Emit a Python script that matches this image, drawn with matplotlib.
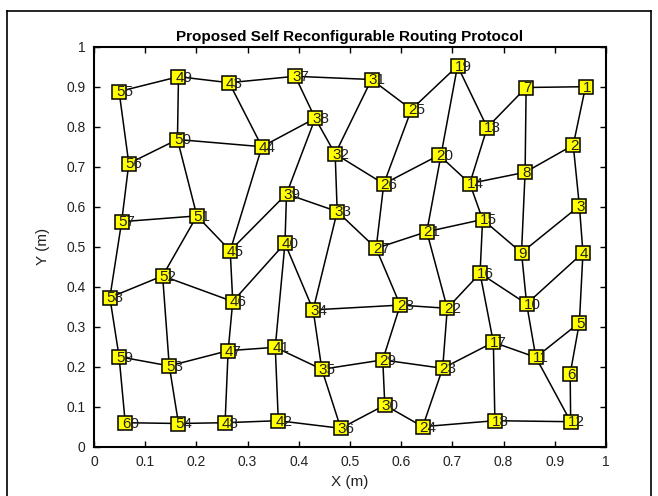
import matplotlib
matplotlib.use("Agg")
import matplotlib.pyplot as plt
from matplotlib.lines import Line2D

plt.rcParams['font.family'] = ['Liberation Sans', 'DejaVu Sans']

node_ids = list(range(1, 61))
node_x = [0.960, 0.936, 0.948, 0.955, 0.948, 0.930, 0.844, 0.842, 0.835, 0.845,
          0.863, 0.931, 0.768, 0.734, 0.759, 0.754, 0.780, 0.783, 0.710, 0.674,
          0.650, 0.690, 0.681, 0.642, 0.620, 0.566, 0.551, 0.598, 0.564, 0.568,
          0.542, 0.471, 0.475, 0.428, 0.445, 0.482, 0.393, 0.432, 0.376, 0.373,
          0.354, 0.360, 0.264, 0.328, 0.266, 0.271, 0.262, 0.256, 0.165, 0.163,
          0.201, 0.134, 0.147, 0.165, 0.049, 0.068, 0.054, 0.031, 0.049, 0.061]
node_y = [0.900, 0.754, 0.602, 0.485, 0.310, 0.182, 0.898, 0.686, 0.485, 0.357,
          0.2235, 0.0625, 0.798, 0.658, 0.568, 0.4335, 0.261, 0.065, 0.952, 0.729,
          0.5375, 0.346, 0.196, 0.050, 0.843, 0.657, 0.496, 0.354, 0.217, 0.104,
          0.918, 0.732, 0.588, 0.342, 0.1935, 0.046, 0.926, 0.821, 0.632, 0.5085,
          0.2485, 0.065, 0.910, 0.750, 0.490, 0.363, 0.240, 0.060, 0.925, 0.768,
          0.577, 0.427, 0.202, 0.058, 0.888, 0.708, 0.5625, 0.373, 0.225, 0.060]

edge_from = [55, 49, 43, 37, 31, 25, 19, 13, 7, 7, 1, 2, 8, 13, 19, 25, 32, 26, 20,
             31, 37, 38, 38, 38, 32, 43, 49, 50, 50, 55, 50, 44, 56, 57, 51, 51, 45,
             45, 46, 52, 52, 57, 52, 58, 59, 59, 53, 47, 53, 46, 47, 60, 54, 48, 42,
             41, 40, 41, 35, 35, 35, 36, 30, 30, 29, 29, 23, 23, 23, 17, 11, 5, 6,
             11, 18, 24, 16, 17, 11, 16, 16, 16, 15, 9, 10, 8, 9, 2, 3, 4, 15, 21,
             14, 21, 22, 27, 27, 33, 33, 33, 39, 40, 34]
edge_to = [49, 43, 37, 31, 25, 19, 13, 7, 1, 8, 2, 8, 14, 14, 21, 26, 26, 20, 14,
           32, 38, 32, 44, 39, 33, 44, 50, 44, 56, 56, 51, 45, 57, 51, 45, 52, 39,
           46, 40, 46, 58, 58, 53, 59, 60, 53, 47, 41, 54, 47, 48, 54, 48, 42, 36,
           42, 41, 35, 29, 36, 34, 30, 29, 24, 28, 23, 24, 22, 17, 11, 5, 6, 12,
           12, 12, 18, 17, 18, 10, 10, 22, 15, 9, 3, 4, 9, 10, 3, 4, 5, 21, 27,
           15, 22, 28, 28, 26, 27, 39, 34, 40, 34, 28]

fig = plt.figure(figsize=(6.58, 4.96), dpi=100)
ax = fig.add_axes([94/658, 1-446.7/496, 512/658, 400/496])

for a, b in zip(edge_from, edge_to):
    ax.plot([node_x[a-1], node_x[b-1]], [node_y[a-1], node_y[b-1]],
            color='black', lw=1.1, zorder=1)

ax.plot(node_x, node_y, linestyle='none', marker='s', markersize=10.5,
        markerfacecolor='#ffff00', markeredgecolor='black', markeredgewidth=1.1,
        zorder=2)

for i, x, y in zip(node_ids, node_x, node_y):
    ax.text(x - 0.006, y - 0.002, str(i), fontsize=11, ha='left', va='center',
            color='#222222', zorder=3)

ax.set_xlim(0, 1)
ax.set_ylim(0, 1)
ticks = [0, 0.1, 0.2, 0.3, 0.4, 0.5, 0.6, 0.7, 0.8, 0.9, 1]
tick_labels = ['0', '0.1', '0.2', '0.3', '0.4', '0.5', '0.6', '0.7', '0.8', '0.9', '1']
ax.set_xticks(ticks)
ax.set_xticklabels(tick_labels)
ax.set_yticks(ticks)
ax.set_yticklabels(tick_labels)
ax.tick_params(direction='in', length=4, width=1, labelsize=10, top=True, right=True,
               pad=6, labelcolor='#222222')
for s in ax.spines.values():
    s.set_linewidth(1.5)
ax.set_xlabel('X (m)', fontsize=11, labelpad=4, color='#222222')
ax.set_ylabel('Y (m)', fontsize=11, labelpad=12, color='#222222')
ax.set_title('Proposed Self Reconfigurable Routing Protocol', fontsize=11,
             fontweight='bold', pad=4)

# outer frame
fl, fr, ft, fb = 7/658, 651/658, 1-11/496, -0.05
for xs, ys in [([fl, fl], [fb, ft]), ([fl, fr], [ft, ft]), ([fr, fr], [ft, fb])]:
    fig.add_artist(Line2D(xs, ys, transform=fig.transFigure, color='black', lw=1.2))

fig.savefig('out.png', dpi=100)
